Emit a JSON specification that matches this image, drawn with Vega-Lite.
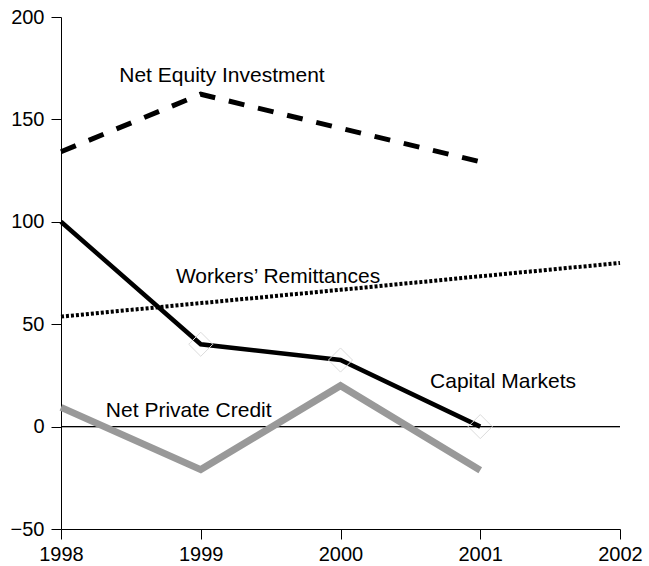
{
  "$schema": "https://vega.github.io/schema/vega-lite/v6.json",
  "width": 559,
  "height": 512,
  "autosize": {"type": "none"},
  "padding": {"left": 61, "top": 17, "right": 29, "bottom": 37},
  "background": "white",
  "config": {
    "view": {"stroke": null},
    "font": "Liberation Sans",
    "axis": {
      "grid": false,
      "title": null,
      "domainColor": "black",
      "domainWidth": 1,
      "tickColor": "black",
      "tickWidth": 1,
      "tickSize": 10,
      "labelColor": "black",
      "labelFont": "Liberation Sans",
      "labelFontSize": 20,
      "labelFlush": false,
      "labelOverlap": false
    }
  },
  "datasets": {
    "series": [
      {"series": "Net Equity Investment", "year": 1998, "value": 134.2},
      {"series": "Net Equity Investment", "year": 1999, "value": 162.3},
      {"series": "Net Equity Investment", "year": 2000, "value": 145.7},
      {"series": "Net Equity Investment", "year": 2001, "value": 129.3},
      {"series": "Capital Markets", "year": 1998, "value": 100},
      {"series": "Capital Markets", "year": 1999, "value": 40.2},
      {"series": "Capital Markets", "year": 2000, "value": 32.5},
      {"series": "Capital Markets", "year": 2001, "value": 0},
      {"series": "Workers' Remittances", "year": 1998, "value": 53.7},
      {"series": "Workers' Remittances", "year": 1999, "value": 60.3},
      {"series": "Workers' Remittances", "year": 2000, "value": 66.8},
      {"series": "Workers' Remittances", "year": 2001, "value": 73.4},
      {"series": "Workers' Remittances", "year": 2002, "value": 79.9},
      {"series": "Net Private Credit", "year": 1998, "value": 9.4},
      {"series": "Net Private Credit", "year": 1999, "value": -21},
      {"series": "Net Private Credit", "year": 2000, "value": 20},
      {"series": "Net Private Credit", "year": 2001, "value": -21.3}
    ],
    "labels": [
      {"label": "Net Equity Investment", "year": 1999.152, "value": 168.4},
      {"label": "Workers’ Remittances", "year": 1999.553, "value": 70.0},
      {"label": "Capital Markets", "year": 2001.163, "value": 18.7},
      {"label": "Net Private Credit", "year": 1998.914, "value": 4.8}
    ]
  },
  "encoding": {
    "x": {
      "field": "year",
      "type": "quantitative",
      "scale": {"domain": [1998, 2002], "nice": false, "zero": false},
      "axis": {"values": [1998, 1999, 2000, 2001, 2002], "format": "d", "labelPadding": 5}
    },
    "y": {
      "field": "value",
      "type": "quantitative",
      "scale": {"domain": [-50, 200], "nice": false, "zero": false},
      "axis": {"values": [-50, 0, 50, 100, 150, 200], "labelPadding": 7}
    }
  },
  "layer": [
    {
      "data": {"name": "series"},
      "transform": [{"filter": "datum.year === 1998"}],
      "mark": {"type": "rule", "color": "black", "strokeWidth": 1},
      "encoding": {"y": {"datum": 0}, "x": null}
    },
    {
      "data": {"name": "series"},
      "transform": [{"filter": "datum.series === 'Net Private Credit'"}],
      "mark": {"type": "line", "color": "#999999", "strokeWidth": 7}
    },
    {
      "data": {"name": "series"},
      "transform": [{"filter": "datum.series === 'Workers\\' Remittances'"}],
      "mark": {"type": "line", "color": "black", "strokeWidth": 4, "strokeDash": [3, 2]}
    },
    {
      "data": {"name": "series"},
      "transform": [{"filter": "datum.series === 'Net Equity Investment'"}],
      "mark": {"type": "line", "color": "black", "strokeWidth": 5, "strokeDash": [16, 14]}
    },
    {
      "data": {"name": "series"},
      "transform": [{"filter": "datum.series === 'Capital Markets'"}],
      "mark": {"type": "line", "color": "black", "strokeWidth": 4.5}
    },
    {
      "data": {"name": "series"},
      "transform": [{"filter": "datum.series === 'Capital Markets' && datum.year > 1998"}],
      "mark": {"type": "point", "shape": "diamond", "size": 580, "filled": false, "stroke": "#dcdcdc", "strokeWidth": 1, "opacity": 1}
    },
    {
      "data": {"name": "labels"},
      "mark": {"type": "text", "align": "center", "baseline": "alphabetic", "font": "Liberation Sans", "fontSize": 21, "color": "black"},
      "encoding": {"text": {"field": "label"}}
    }
  ]
}
